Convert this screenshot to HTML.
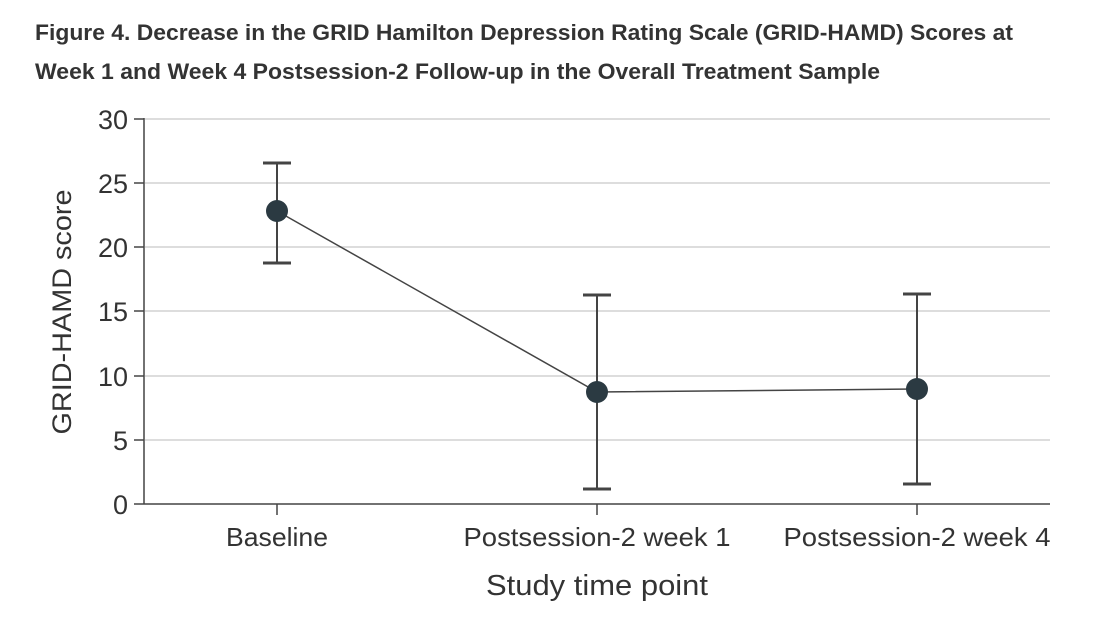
<!DOCTYPE html>
<html><head><meta charset="utf-8"><style>
html,body{margin:0;padding:0;background:#fff;}
svg{display:block;}
</style></head><body>
<svg width="1093" height="621" xmlns="http://www.w3.org/2000/svg" font-family="Liberation Sans, sans-serif">
<text x="35" y="40" font-size="22" font-weight="bold" fill="#333" textLength="978" lengthAdjust="spacingAndGlyphs">Figure 4.  Decrease in the GRID Hamilton Depression Rating Scale (GRID-HAMD) Scores at</text>
<text x="35" y="79" font-size="22" font-weight="bold" fill="#333" textLength="845" lengthAdjust="spacingAndGlyphs">Week 1 and Week 4 Postsession-2 Follow-up in the Overall Treatment Sample</text>
<g stroke="#ddd" stroke-width="2">
<line x1="145" y1="119" x2="1050" y2="119"/>
<line x1="145" y1="183" x2="1050" y2="183"/>
<line x1="145" y1="247" x2="1050" y2="247"/>
<line x1="145" y1="311" x2="1050" y2="311"/>
<line x1="145" y1="376" x2="1050" y2="376"/>
<line x1="145" y1="440" x2="1050" y2="440"/>
</g>
<g stroke="#444" stroke-width="1.5">
<line x1="144" y1="118" x2="144" y2="504"/>
<line x1="144" y1="504" x2="1050" y2="504"/>
<line x1="134" y1="119" x2="144" y2="119"/>
<line x1="134" y1="183" x2="144" y2="183"/>
<line x1="134" y1="247" x2="144" y2="247"/>
<line x1="134" y1="311" x2="144" y2="311"/>
<line x1="134" y1="376" x2="144" y2="376"/>
<line x1="134" y1="440" x2="144" y2="440"/>
<line x1="134" y1="504" x2="144" y2="504"/>
<line x1="277" y1="504" x2="277" y2="515"/>
<line x1="597" y1="504" x2="597" y2="515"/>
<line x1="917" y1="504" x2="917" y2="515"/>
</g>
<g font-size="27" fill="#333" text-anchor="end">
<text x="128" y="129">30</text>
<text x="128" y="193">25</text>
<text x="128" y="257">20</text>
<text x="128" y="321">15</text>
<text x="128" y="386">10</text>
<text x="128" y="450">5</text>
<text x="128" y="514">0</text>
</g>
<text transform="translate(71,312) rotate(-90)" font-size="27" fill="#333" text-anchor="middle" textLength="245" lengthAdjust="spacingAndGlyphs">GRID-HAMD score</text>
<g font-size="26" fill="#333" text-anchor="middle">
<text x="277" y="546" textLength="102" lengthAdjust="spacingAndGlyphs">Baseline</text>
<text x="597" y="546" textLength="267" lengthAdjust="spacingAndGlyphs">Postsession-2 week 1</text>
<text x="917" y="546" textLength="267" lengthAdjust="spacingAndGlyphs">Postsession-2 week 4</text>
<text x="597" y="595" font-size="29" textLength="222" lengthAdjust="spacingAndGlyphs">Study time point</text>
</g>
<g stroke="#444" stroke-width="2" fill="none">
<line x1="277" y1="163" x2="277" y2="263"/><line x1="263" y1="163" x2="291" y2="163" stroke-width="3"/><line x1="263" y1="263" x2="291" y2="263" stroke-width="3"/>
<line x1="597" y1="295" x2="597" y2="489"/><line x1="583" y1="295" x2="611" y2="295" stroke-width="3"/><line x1="583" y1="489" x2="611" y2="489" stroke-width="3"/>
<line x1="917" y1="294" x2="917" y2="484"/><line x1="903" y1="294" x2="931" y2="294" stroke-width="3"/><line x1="903" y1="484" x2="931" y2="484" stroke-width="3"/>
<polyline points="277,211 597,392 917,389" stroke-width="1.5"/>
</g>
<g fill="#2b3a42">
<circle cx="277" cy="211" r="11"/>
<circle cx="597" cy="392" r="11"/>
<circle cx="917" cy="389" r="11"/>
</g>
</svg>
</body></html>
